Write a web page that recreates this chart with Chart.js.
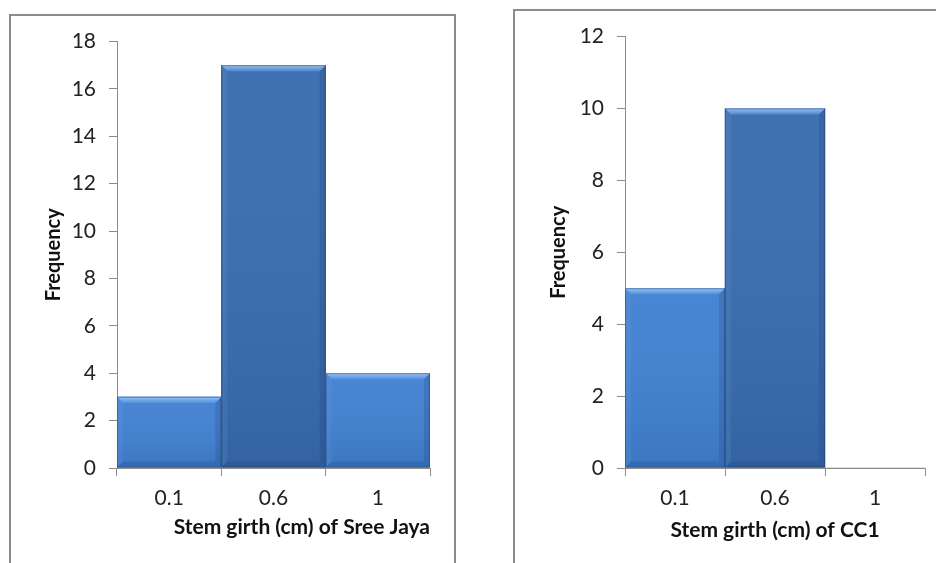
<!DOCTYPE html>
<html>
<head>
<meta charset="utf-8">
<script src="https://cdn.jsdelivr.net/npm/chart.js@4.4.1/dist/chart.umd.min.js"></script>
<style>
  html, body { margin: 0; padding: 0; background: #fff; width: 936px; height: 563px; overflow: hidden; }
  .box { position: absolute; border: 2px solid #8c8c8c; background: #fff; box-sizing: border-box; }
  #boxL { left: 9px; top: 14px; width: 447px; height: 600px; }
  #boxR { left: 513px; top: 9px; width: 450px; height: 600px; }
  canvas { position: absolute; }
  #cL { left: 11px; top: 16px; }
  #cR { left: 515px; top: 11px; }
</style>
</head>
<body>
<div class="box" id="boxL"></div>
<div class="box" id="boxR"></div>
<canvas id="cL" width="442" height="547" style="width:442px;height:547px"></canvas>
<canvas id="cR" width="421" height="552" style="width:421px;height:552px"></canvas>
<script>
// ---- Data ----
const categories = ['0.1', '0.6', '1'];
const sreeJayaFrequency = [3, 17, 4];
const cc1Frequency = [5, 10, 0];
const sreeJayaTicks = { min: 0, max: 18, step: 2 };
const cc1Ticks = { min: 0, max: 12, step: 2 };
const sreeJayaTitle = 'Stem girth (cm) of Sree Jaya';
const cc1Title = 'Stem girth (cm) of CC1';
const yTitle = 'Frequency';

const barColors = ['#4281d1', '#3a6caf', '#4281d1'];

// bevel effect plugin (decorates the bars drawn by the library)
const bevelPlugin = {
  id: 'bevel',
  afterDatasetsDraw(chart) {
    const ctx = chart.ctx;
    const meta = chart.getDatasetMeta(0);
    meta.data.forEach((bar, i) => {
      const {x, y, base, width} = bar.getProps(['x', 'y', 'base', 'width'], true);
      const h = base - y;
      if (h <= 0.5) return;
      const l = x - width / 2, r = x + width / 2, t = y, b = base;
      const bv = Math.min(6, h / 2);
      ctx.save();
      // vertical shading
      const g = ctx.createLinearGradient(0, t, 0, b);
      g.addColorStop(0, 'rgba(255,255,255,0.03)');
      g.addColorStop(1, 'rgba(0,20,60,0.10)');
      ctx.fillStyle = g;
      ctx.fillRect(l, t, width, h);
      // top bevel
      const gt = ctx.createLinearGradient(0, t, 0, t + bv);
      gt.addColorStop(0, 'rgba(165,205,250,0.95)');
      gt.addColorStop(1, 'rgba(100,160,230,0.5)');
      ctx.fillStyle = gt;
      ctx.beginPath();
      ctx.moveTo(l, t); ctx.lineTo(r, t); ctx.lineTo(r - bv, t + bv); ctx.lineTo(l + bv, t + bv); ctx.closePath();
      ctx.fill();
      // left bevel
      ctx.fillStyle = 'rgba(120,170,230,0.15)';
      ctx.beginPath();
      ctx.moveTo(l, t); ctx.lineTo(l + bv, t + bv); ctx.lineTo(l + bv, b - bv); ctx.lineTo(l, b); ctx.closePath();
      ctx.fill();
      // right bevel
      ctx.fillStyle = 'rgba(20,50,100,0.18)';
      ctx.beginPath();
      ctx.moveTo(r, t); ctx.lineTo(r - bv, t + bv); ctx.lineTo(r - bv, b - bv); ctx.lineTo(r, b); ctx.closePath();
      ctx.fill();
      // bottom bevel
      ctx.fillStyle = 'rgba(20,50,100,0.18)';
      ctx.beginPath();
      ctx.moveTo(l, b); ctx.lineTo(l + bv, b - bv); ctx.lineTo(r - bv, b - bv); ctx.lineTo(r, b); ctx.closePath();
      ctx.fill();
      // edge line
      ctx.strokeStyle = 'rgba(30,60,110,0.45)';
      ctx.lineWidth = 1;
      ctx.strokeRect(l + 0.5, t + 0.5, width - 1, h - 1);
      ctx.restore();
    });
  }
};

function makeChart(id, values, ticks, xTitle, cfg) {
  return new Chart(document.getElementById(id), {
    type: 'bar',
    data: {
      labels: categories,
      datasets: [{ data: values, backgroundColor: barColors, borderWidth: 0,
                   barPercentage: 1.0, categoryPercentage: 1.0 }]
    },
    options: {
      responsive: false,
      animation: false,
      events: [],
      layout: { padding: cfg.padding },
      plugins: { legend: { display: false }, tooltip: { enabled: false } },
      scales: {
        x: {
          grid: { display: true, offset: true, drawOnChartArea: false, drawTicks: true,
                  tickLength: 8, color: '#8c8c8c' },
          border: { display: true, color: '#8c8c8c', width: 1 },
          ticks: { color: '#222', font: { family: 'Lato', size: 21 }, padding: cfg.xTickPad },
          title: { display: true, text: xTitle, align: cfg.xAlign, color: '#111',
                   font: { family: 'Lato', size: 21, weight: 'bold' },
                   padding: { top: 0, bottom: cfg.xTitlePad } },
          afterFit: s => { s.height = cfg.xHeight; }
        },
        y: {
          min: ticks.min, max: ticks.max,
          grid: { display: true, drawOnChartArea: false, drawTicks: true, tickLength: 8, color: '#8c8c8c' },
          border: { display: true, color: '#8c8c8c', width: 1 },
          ticks: { stepSize: ticks.step, color: '#222', font: { family: 'Lato', size: 21 }, padding: 13 },
          title: { display: true, text: yTitle, color: '#111',
                   font: { family: 'Lato', size: 20, weight: 'bold' },
                   padding: { top: 0, bottom: 0 } },
          afterFit: s => { s.width = cfg.yWidth; }
        }
      }
    },
    plugins: [bevelPlugin]
  });
}

makeChart('cL', sreeJayaFrequency, sreeJayaTicks, sreeJayaTitle,
  { padding: { left: 31, right: 23, top: 24, bottom: 0 }, yWidth: 75, xHeight: 95,
    xTickPad: 10, xTitlePad: 23, xAlign: 'end' });
makeChart('cR', cc1Frequency, cc1Ticks, cc1Title,
  { padding: { left: 32, right: 11, top: 24, bottom: 0 }, yWidth: 78, xHeight: 95,
    xTickPad: 10, xTitlePad: 20, xAlign: 'center' });
</script>
</body>
</html>
